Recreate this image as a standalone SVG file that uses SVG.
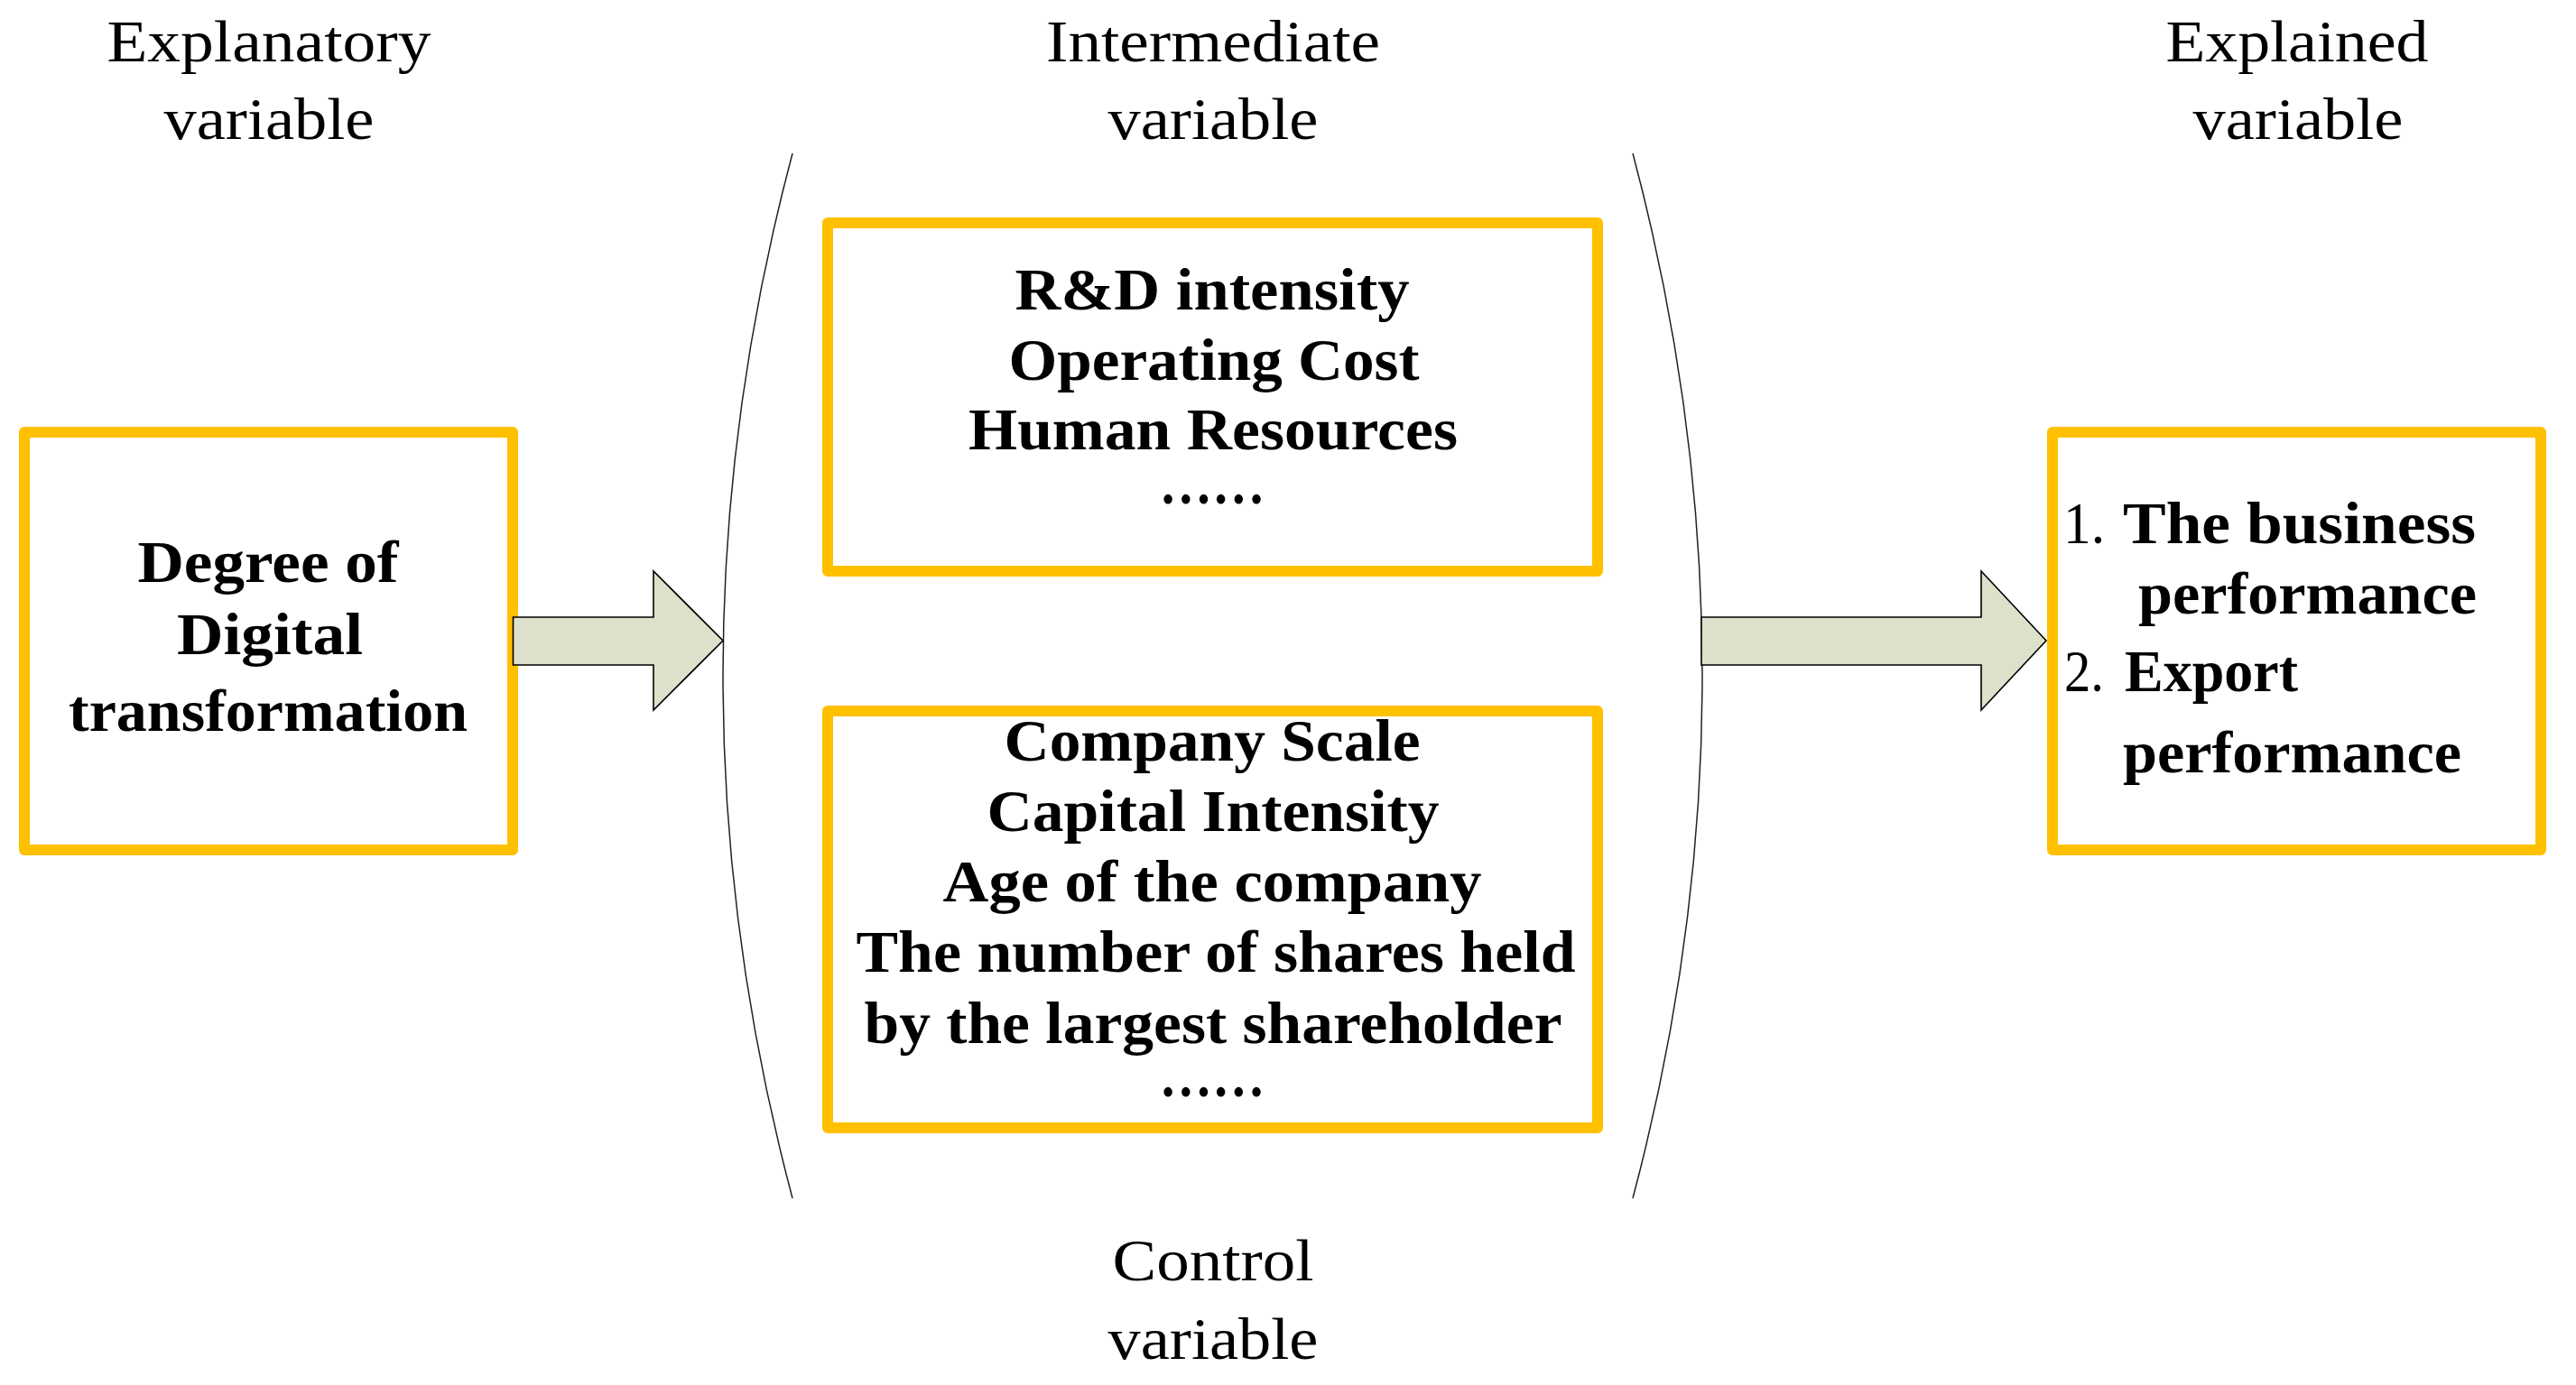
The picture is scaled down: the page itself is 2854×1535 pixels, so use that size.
<svg xmlns="http://www.w3.org/2000/svg" width="2854" height="1535" viewBox="0 0 2854 1535">
<style>
.box{fill:#ffffff;stroke:#ffc000;stroke-width:12;stroke-linejoin:round}
.arrow{fill:#dde1cb;stroke:#000;stroke-width:1.6;stroke-linejoin:miter}
.arc{fill:none;stroke:#222;stroke-width:1.5}
.hd{font-family:"Liberation Serif","Times New Roman",serif;font-size:66px;fill:#000;text-anchor:middle}
.b{font-family:"Liberation Serif","Times New Roman",serif;font-weight:700;font-size:65px;fill:#000}
.m{text-anchor:middle}
.r{font-family:"Liberation Serif","Times New Roman",serif;font-weight:400;font-size:65px;fill:#000}
</style>
<g id="labels">
<text class="hd" x="298" y="68" textLength="359" lengthAdjust="spacingAndGlyphs">Explanatory</text>
<text class="hd" x="298" y="154" textLength="233" lengthAdjust="spacingAndGlyphs">variable</text>
<text class="hd" x="1344" y="68" textLength="370" lengthAdjust="spacingAndGlyphs">Intermediate</text>
<text class="hd" x="1344" y="154" textLength="233" lengthAdjust="spacingAndGlyphs">variable</text>
<text class="hd" x="2545" y="68" textLength="291" lengthAdjust="spacingAndGlyphs">Explained</text>
<text class="hd" x="2546" y="154" textLength="233" lengthAdjust="spacingAndGlyphs">variable</text>
<text class="hd" x="1344" y="1419" textLength="223" lengthAdjust="spacingAndGlyphs">Control</text>
<text class="hd" x="1344" y="1506" textLength="233" lengthAdjust="spacingAndGlyphs">variable</text>
</g>
<g id="brackets">
<path class="arc" d="M878,170 Q724,749 878,1328"/>
<path class="arc" d="M1809,170 Q1963,749 1809,1328"/>
</g>
<g id="node-explanatory">
<rect class="box" x="27" y="479" width="541" height="463"/>
<text class="b m" x="297" y="645" textLength="289" lengthAdjust="spacingAndGlyphs">Degree of</text>
<text class="b m" x="299" y="725" textLength="206" lengthAdjust="spacingAndGlyphs">Digital</text>
<text class="b m" x="297" y="810" textLength="442" lengthAdjust="spacingAndGlyphs">transformation</text>
</g>
<g id="node-intermediate">
<rect class="box" x="917" y="247" width="853" height="386"/>
<text class="b m" x="1343" y="343" textLength="437" lengthAdjust="spacingAndGlyphs">R&amp;D intensity</text>
<text class="b m" x="1345" y="421" textLength="455" lengthAdjust="spacingAndGlyphs">Operating Cost</text>
<text class="b m" x="1344" y="498" textLength="542" lengthAdjust="spacingAndGlyphs">Human Resources</text>
<text class="b m" x="1343" y="558" textLength="117" lengthAdjust="spacingAndGlyphs">……</text>
</g>
<g id="node-control">
<rect class="box" x="917" y="788" width="853" height="462"/>
<text class="b m" x="1343" y="843" textLength="461" lengthAdjust="spacingAndGlyphs">Company Scale</text>
<text class="b m" x="1344" y="921" textLength="501" lengthAdjust="spacingAndGlyphs">Capital Intensity</text>
<text class="b m" x="1343" y="999" textLength="597" lengthAdjust="spacingAndGlyphs">Age of the company</text>
<text class="b m" x="1347" y="1077" textLength="797" lengthAdjust="spacingAndGlyphs">The number of shares held</text>
<text class="b m" x="1344" y="1156" textLength="773" lengthAdjust="spacingAndGlyphs">by the largest shareholder</text>
<text class="b m" x="1343" y="1215" textLength="117" lengthAdjust="spacingAndGlyphs">……</text>
</g>
<g id="connectors">
<path class="arrow" d="M568.5,684 L724,684 L724,633 L801,710 L724,787 L724,737 L568.5,737 Z"/>
<path class="arrow" d="M1885,684 L2195,684 L2195,633 L2267,710 L2195,787 L2195,737 L1885,737 Z"/>
</g>
<g id="node-explained">
<rect class="box" x="2274" y="479" width="541" height="463"/>
<text class="r" x="2286" y="602" textLength="46" lengthAdjust="spacingAndGlyphs">1.</text>
<text class="b" x="2352" y="602" textLength="391" lengthAdjust="spacingAndGlyphs">The business</text>
<text class="b" x="2369" y="680" textLength="375" lengthAdjust="spacingAndGlyphs">performance</text>
<text class="r" x="2287" y="766" textLength="44" lengthAdjust="spacingAndGlyphs">2.</text>
<text class="b" x="2354" y="766" textLength="192" lengthAdjust="spacingAndGlyphs">Export</text>
<text class="b" x="2352" y="856" textLength="375" lengthAdjust="spacingAndGlyphs">performance</text>
</g>
</svg>
